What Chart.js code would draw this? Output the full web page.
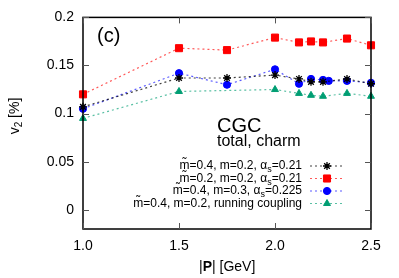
<!DOCTYPE html>
<html>
<head>
  <meta charset="UTF-8">
  <title>v2 vs |P| - CGC charm</title>
  <script src="https://cdn.jsdelivr.net/npm/chart.js"></script>
  <style>
    html, body { margin: 0; padding: 0; background: #fff; }
    #wrap { width: 399px; height: 278px; position: relative; }
  </style>
</head>
<body>
  <div id="wrap"><canvas id="chart" width="399" height="278"></canvas></div>

  <script>
    // values
    const pBlack = [1.0, 1.5, 1.75, 2.0, 2.125, 2.1875, 2.25, 2.375, 2.5];
    const v2Black = [0.107, 0.137, 0.137, 0.140, 0.136, 0.133, 0.133, 0.136, 0.131];

    const pRed = [1.0, 1.5, 1.75, 2.0, 2.125, 2.1875, 2.25, 2.375, 2.5];
    const v2Red = [0.120, 0.168, 0.166, 0.179, 0.174, 0.175, 0.174, 0.178, 0.171];

    const pBlue = [1.0, 1.5, 1.75, 2.0, 2.125, 2.1875, 2.25, 2.28, 2.375, 2.5];
    const v2Blue = [0.105, 0.142, 0.130, 0.146, 0.131, 0.136, 0.135, 0.134, 0.134, 0.132];

    const pGreen = [1.0, 1.5, 2.0, 2.125, 2.1875, 2.25, 2.375, 2.5];
    const v2Green = [0.095, 0.123, 0.125, 0.121, 0.119, 0.118, 0.121, 0.118];

    const seriesLabels = [
      'm\u0303=0.4, m=0.2, \u03b1s=0.21',
      'm\u0303=0.2, m=0.2, \u03b1s=0.21',
      'm\u0303=0.4, m=0.3, \u03b1s=0.225',
      'm\u0303=0.4, m=0.2, running coupling'
    ];

    const xTicks = [1.0, 1.5, 2.0, 2.5];
    const xTickLabels = ['1.0', '1.5', '2.0', '2.5'];
    const yTicks = [0, 0.05, 0.1, 0.15, 0.2];
    const yTickLabels = ['0', '0.05', '0.1', '0.15', '0.2'];

    const FONT = '"Liberation Sans", Arial, sans-serif';

    function pts(xs, ys) {
      return xs.map((x, i) => ({ x: x, y: ys[i] }));
    }

    function series(label, xs, ys, color, lineColor, style, radius) {
      return {
        label: label,
        data: pts(xs, ys),
        showLine: true,
        borderColor: lineColor,
        backgroundColor: color,
        pointBorderColor: color,
        pointBackgroundColor: color,
        borderWidth: 1.2,
        borderDash: [2, 3],
        pointStyle: style,
        pointRadius: radius,
        pointBorderWidth: style === 'star' ? 1.3 : 1,
        clip: false
      };
    }

    // draw subscript "s" after alpha
    function drawLabel(ctx, text, xRight, y, size) {
      const parts = text.split('\u03b1s');
      ctx.font = size + 'px ' + FONT;
      const subFont = Math.round(size * 0.75) + 'px ' + FONT;
      let w0 = ctx.measureText(parts[0]).width;
      let wa = parts.length > 1 ? ctx.measureText('\u03b1').width : 0;
      let w1 = parts.length > 1 ? ctx.measureText(parts[1]).width : 0;
      ctx.font = subFont;
      let ws = parts.length > 1 ? ctx.measureText('s').width : 0;
      let x = xRight - (w0 + wa + ws + w1);
      ctx.textAlign = 'left';
      ctx.textBaseline = 'middle';
      ctx.font = size + 'px ' + FONT;
      ctx.fillText(parts[0], x, y);
      if (parts.length > 1) {
        x += w0;
        ctx.fillText('\u03b1', x, y);
        x += wa;
        ctx.font = subFont;
        ctx.fillText('s', x, y + 4);
        x += ws;
        ctx.font = size + 'px ' + FONT;
        ctx.fillText(parts[1], x, y);
      }
    }

    const decor = {
      id: 'decor',
      afterDraw(chart) {
        const ctx = chart.ctx;
        const a = chart.chartArea;
        const xs = chart.scales.x, ys = chart.scales.y;
        ctx.save();
        ctx.strokeStyle = '#000';
        ctx.fillStyle = '#000';
        ctx.lineWidth = 1.5;
        ctx.strokeRect(a.left, a.top, a.right - a.left, a.bottom - a.top);

        // inward ticks on all sides
        ctx.lineWidth = 1;
        ctx.strokeStyle = '#555';
        ctx.beginPath();
        yTicks.forEach(v => {
          const py = Math.round(ys.getPixelForValue(v)) + 0.5;
          ctx.moveTo(a.left, py); ctx.lineTo(a.left + 6, py);
          ctx.moveTo(a.right, py); ctx.lineTo(a.right - 6, py);
        });
        xTicks.forEach(v => {
          const px = Math.round(xs.getPixelForValue(v)) + 0.5;
          ctx.moveTo(px, a.bottom); ctx.lineTo(px, a.bottom - 6);
          ctx.moveTo(px, a.top); ctx.lineTo(px, a.top + 6);
        });
        ctx.stroke();

        // panel tag and text
        ctx.fillStyle = '#000';
        ctx.textAlign = 'left';
        ctx.textBaseline = 'middle';
        ctx.font = '20px ' + FONT;
        ctx.fillText('(c)', 97, 36);
        ctx.fillText('CGC', 217, 126);
        ctx.font = '16px ' + FONT;
        ctx.fillText('total, charm', 217, 142);

        // legend
        const rows = [166, 178.5, 191, 203.5];
        chart.data.datasets.forEach((ds, i) => {
          const y = rows[i];
          ctx.fillStyle = '#000';
          drawLabel(ctx, seriesLabels[i], 302, y, 12);
          ctx.save();
          ctx.strokeStyle = ds.borderColor;
          ctx.lineWidth = ds.borderWidth;
          ctx.setLineDash([2, 3]);
          ctx.beginPath();
          ctx.moveTo(310, y); ctx.lineTo(345, y);
          ctx.stroke();
          ctx.restore();
          ctx.save();
          ctx.strokeStyle = ds.pointBorderColor;
          ctx.fillStyle = ds.pointBackgroundColor;
          ctx.lineWidth = ds.pointBorderWidth;
          Chart.helpers.drawPoint(ctx, { pointStyle: ds.pointStyle, radius: ds.pointRadius, rotation: 0, borderWidth: ds.pointBorderWidth }, 327, y);
          ctx.restore();
        });

        // axis titles
        ctx.fillStyle = '#000';
        ctx.textBaseline = 'middle';
        ctx.font = '14px ' + FONT;
        let x0 = 199, ty = 267;
        ctx.textAlign = 'left';
        ctx.fillText('|', x0, ty); x0 += ctx.measureText('|').width;
        ctx.font = 'bold 14px ' + FONT;
        ctx.fillText('P', x0, ty); x0 += ctx.measureText('P').width;
        ctx.font = '14px ' + FONT;
        ctx.fillText('| [GeV]', x0, ty);

        ctx.translate(15, 116);
        ctx.rotate(-Math.PI / 2);
        ctx.font = '14px ' + FONT;
        const wv = ctx.measureText('v').width;
        ctx.font = '10px ' + FONT;
        const w2 = ctx.measureText('2').width;
        ctx.font = '14px ' + FONT;
        const wr = ctx.measureText(' [%]').width;
        let sx = -(wv + w2 + wr) / 2;
        ctx.fillText('v', sx, 0); sx += wv;
        ctx.font = '10px ' + FONT;
        ctx.fillText('2', sx, 4); sx += w2;
        ctx.font = '14px ' + FONT;
        ctx.fillText(' [%]', sx, 0);
        ctx.restore();
      }
    };

    new Chart(document.getElementById('chart'), {
      type: 'scatter',
      data: {
        datasets: [
          series(seriesLabels[0], pBlack, v2Black, '#000000', 'rgba(0,0,0,0.75)', 'star', 4),
          series(seriesLabels[1], pRed, v2Red, '#ff0000', 'rgba(255,0,0,0.65)', 'rect', 5),
          series(seriesLabels[2], pBlue, v2Blue, '#0000ff', 'rgba(0,0,255,0.65)', 'circle', 3.6),
          series(seriesLabels[3], pGreen, v2Green, '#009e73', 'rgba(0,158,115,0.65)', 'triangle', 4)
        ]
      },
      options: {
        responsive: false,
        animation: false,
        layout: { padding: { left: 0, right: 28, top: 14, bottom: 0 } },
        plugins: { legend: { display: false }, tooltip: { enabled: false } },
        scales: {
          x: {
            type: 'linear',
            min: 1.0,
            max: 2.5,
            afterBuildTicks: s => { s.ticks = xTicks.map(v => ({ value: v })); },
            afterFit: s => { s.height = 49; },
            grid: { display: false, drawTicks: false },
            border: { display: false },
            ticks: {
              color: '#000',
              padding: 9,
              maxRotation: 0,
              font: { family: FONT, size: 14 },
              callback: v => xTickLabels[xTicks.indexOf(v)]
            }
          },
          y: {
            type: 'linear',
            min: -0.02,
            max: 0.2,
            afterBuildTicks: s => { s.ticks = yTicks.map(v => ({ value: v })); },
            afterFit: s => { s.width = 83; },
            grid: { display: false, drawTicks: false },
            border: { display: false },
            ticks: {
              color: '#000',
              padding: 9,
              font: { family: FONT, size: 14 },
              callback: v => yTickLabels[yTicks.indexOf(v)]
            }
          }
        }
      },
      plugins: [decor]
    });
  </script>
</body>
</html>
